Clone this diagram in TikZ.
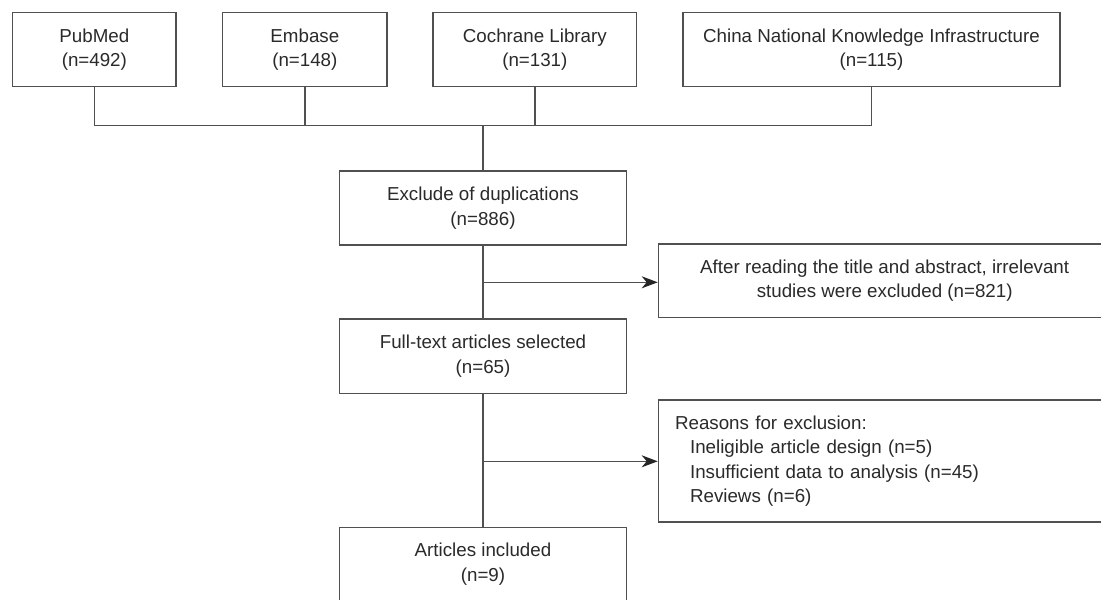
\documentclass[tikz,border=0pt]{standalone}
\usepackage{fontspec}
\setmainfont{Liberation Sans}
\usetikzlibrary{arrows.meta}
\definecolor{txtc}{HTML}{2A2A2A}
\definecolor{linec}{HTML}{505050}
\definecolor{tipc}{HTML}{252525}
\tikzset{
  boxnode/.style={draw=linec, line width=1.3pt, text=txtc, align=center,
    inner sep=0pt, font=\fontsize{18.75}{24.5}\selectfont},
  conn/.style={draw=linec, line width=1.3pt},
  arrowconn/.style={conn, -{Stealth[length=16pt,width=12pt,inset=5pt,color=tipc,fill=tipc]}}
}
\begin{document}
\begin{tikzpicture}[x=1pt,y=-1pt]
\useasboundingbox (0,0) rectangle (1101,600);
\fill[white] (0,0) rectangle (1101,600);

\node[boxnode, minimum width=163.3pt, minimum height=74pt] (pub) at (94.35,49.7) {PubMed\\(n=492)};
\node[boxnode, minimum width=164.3pt, minimum height=74pt] (emb) at (304.85,49.7) {Embase\\(n=148)};
\node[boxnode, minimum width=203.7pt, minimum height=74pt] (coc) at (534.85,49.7) {Cochrane Library\\(n=131)};
\node[boxnode, minimum width=377pt, minimum height=74pt] (cnk) at (871.5,49.7) {China National Knowledge Infrastructure\\(n=115)};

\node[boxnode, minimum width=287.4pt, minimum height=74pt] (exc) at (483,208) {Exclude of duplications\\(n=886)};
\node[boxnode, minimum width=452.7pt, minimum height=73.7pt] (aft) at (884.7,280.85) {After reading the title and abstract, irrelevant\\studies were excluded (n=821)};
\node[boxnode, minimum width=287.4pt, minimum height=74.3pt] (ful) at (483,356.2) {Full-text articles selected\\(n=65)};
\node[boxnode, align=left, inner xsep=16.7pt, text width=419.3pt, minimum height=122pt] (rea) at (884.7,461) {Reasons for exclusion:\\\hspace*{15pt}Ineligible article design (n=5)\\\hspace*{15pt}Insufficient data to analysis (n=45)\\\hspace*{15pt}Reviews (n=6)};
\node[boxnode, minimum width=287.4pt, minimum height=74pt] (art) at (483,564.3) {Articles included\\(n=9)};

\coordinate (hl) at (483,125.7);
\coordinate (j1) at (483,282.3);
\coordinate (j2) at (483,461.3);

\draw[conn] (pub.south) -- (pub.south |- hl) -| (cnk.south);
\draw[conn] (emb.south) -- (emb.south |- hl);
\draw[conn] (coc.south) -- (coc.south |- hl);
\draw[conn] (hl) -- (exc.north);
\draw[conn] (exc.south) -- (ful.north);
\draw[conn] (ful.south) -- (art.north);
\draw[arrowconn] (j1) -- (j1 -| aft.west);
\draw[arrowconn] (j2) -- (j2 -| rea.west);
\end{tikzpicture}
\end{document}
